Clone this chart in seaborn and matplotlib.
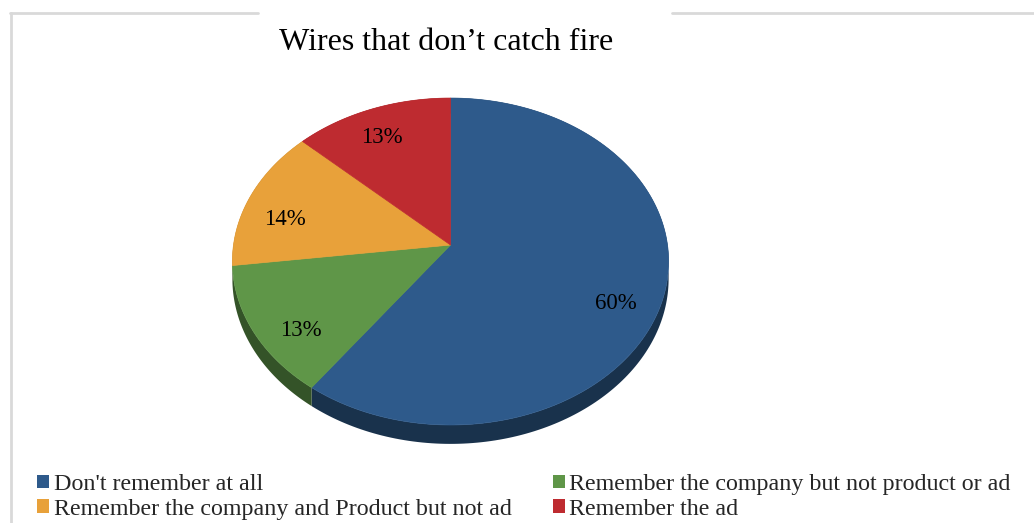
import numpy as np
import matplotlib
matplotlib.use("Agg")
import matplotlib.pyplot as plt
from matplotlib.patches import Polygon, Patch
from matplotlib.lines import Line2D
import seaborn as sns

title = "Wires that don\u2019t catch fire"
categories = ["Don't remember at all",
              "Remember the company but not product or ad",
              "Remember the company and Product but not ad",
              "Remember the ad"]
shares = [60, 13, 14, 13]
colors = ["#2E5A8B", "#5F9648", "#E8A13A", "#BE2B30"]

sns.set_theme(style="white")
plt.rcParams["font.family"] = ["Liberation Serif", "DejaVu Serif"]

W, H = 1034, 523
fig = plt.figure(figsize=(W / 100, H / 100), dpi=100)
ax = fig.add_axes([0, 0, 1, 1])
ax.set_xlim(0, W)
ax.set_ylim(H, 0)
ax.axis("off")

# chart frame, broken by the title
frame = "#D9D9D9"
ax.add_line(Line2D([10, 258], [13, 13], color=frame, lw=2))
ax.add_line(Line2D([672, W], [13, 13], color=frame, lw=2))
ax.add_line(Line2D([11, 11], [13, H], color=frame, lw=2))

# tilted pie geometry (pixel units)
cx, cy = 450.5, 245.0
a, b = 217.0, 161.8
persp = 0.101
depth = 17.0


def project(theta, drop=0.0):
    """theta measured clockwise from 12 o'clock; drop = height below the top face."""
    w = 1.0 / (1.0 + persp * np.cos(theta))
    x = cx + a * np.sin(theta) * w
    y = cy - b * np.cos(theta) * w + drop * w
    return x, y


def darken(c, f):
    r, g, bb = matplotlib.colors.to_rgb(c)
    return (r * f, g * f, bb * f)


total = float(sum(shares))
bounds = np.concatenate([[0.0], np.cumsum(shares) / total * 2 * np.pi])

# outer side walls first
for i, col in enumerate(colors):
    t = np.linspace(bounds[i], bounds[i + 1], 200)
    xt, yt = project(t)
    xb, yb = project(t, depth)
    pts = np.column_stack([np.concatenate([xt, xb[::-1]]),
                           np.concatenate([yt, yb[::-1]])])
    ax.add_patch(Polygon(pts, closed=True, facecolor=darken(col, 0.55),
                         edgecolor="none", zorder=1))

# top faces
for i, col in enumerate(colors):
    t = np.linspace(bounds[i], bounds[i + 1], 200)
    xt, yt = project(t)
    pts = np.column_stack([np.concatenate([[cx], xt]),
                           np.concatenate([[cy], yt])])
    ax.add_patch(Polygon(pts, closed=True, facecolor=col,
                         edgecolor=col, lw=0.5, zorder=2))

# percentage labels on an inner ellipse around the face's bounding-box centre
top_y = project(0.0)[1]
bot_y = project(np.pi)[1]
lab_cy = (top_y + bot_y) / 2
lab_ry = 0.826 * (bot_y - top_y) / 2
lab_rx = 0.80 * a
for i, v in enumerate(shares):
    mid = (bounds[i] + bounds[i + 1]) / 2
    lx = cx + lab_rx * np.sin(mid)
    ly = lab_cy - lab_ry * np.cos(mid)
    ax.text(lx, ly, f"{v}%", ha="center", va="center", fontsize=16.5,
            color="black", zorder=3)

ax.text(446, 42, title, ha="center", va="center", fontsize=23, color="black")

order = [0, 2, 1, 3]
handles = [Patch(facecolor=colors[k], edgecolor="none", label=categories[k]) for k in order]
ax.legend(handles=handles, loc="upper left", bbox_to_anchor=(37, 474),
          bbox_transform=ax.transData, ncol=2, frameon=False, fontsize=17.3,
          handlelength=0.5, handleheight=0.5, handletextpad=0.2,
          columnspacing=1.7, labelspacing=0.16, borderpad=0, borderaxespad=0)

fig.savefig("out.png", dpi=100)
